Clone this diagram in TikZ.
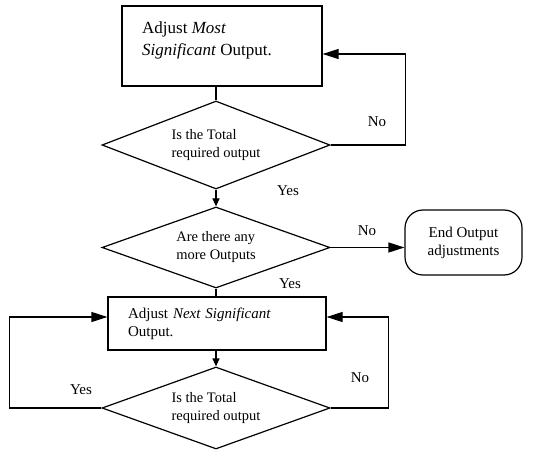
\documentclass[tikz,border=0pt]{standalone}
\usepackage{fontspec}
\setmainfont{Liberation Serif}
\usetikzlibrary{shapes.geometric,arrows.meta}
\tikzset{
  flow/.style={line width=1.2pt},
  bigtip/.style={-{Triangle[length=16pt,width=10pt]}},
  smalltip/.style={-{Triangle[length=8pt,width=7pt]}},
  procbox/.style={draw, line width=1.2pt, rectangle, inner sep=0pt},
  decision/.style={draw, line width=1.2pt, diamond, aspect=2.7, minimum width=228, inner sep=0pt,
    align=left, font=\fontsize{14.5}{18}\selectfont},
  lbl/.style={inner sep=0pt, font=\fontsize{15}{18}\selectfont}
}
\begin{document}
\begin{tikzpicture}[x=1pt,y=1pt]
  \useasboundingbox (0,0) rectangle (543,450);
  % boxes and decisions
  \node[procbox, minimum width=200, minimum height=80] (mostbox) at (222,404) {};
  \node[anchor=north west, inner sep=0pt, align=left, font=\fontsize{17}{21.5}\selectfont]
    (mosttext) at (142,428) {Adjust \textit{Most}\\\textit{Significant} Output.};
  \node[decision, aspect=2.59, minimum height=88] (check1) at (216,305) {Is the Total\\required output};
  \node[decision, aspect=2.81, minimum height=81] (more) at (216,202.5) {Are there any\\more Outputs};
  \node[draw, line width=1.2pt, rounded corners=18pt, minimum width=117, minimum height=65,
    inner sep=0pt, align=center, font=\fontsize{15}{18}\selectfont]
    (finish) at (463.5,207.5) {End Output\\adjustments};
  \node[procbox, minimum width=218, minimum height=53, text width=178, inner xsep=20pt,
    align=left, font=\fontsize{15}{18}\selectfont]
    (nextbox) at (217,126.5) {Adjust \textit{Next Significant}\\Output.};
  \node[decision, aspect=2.78, minimum height=82] (check2) at (216,42) {Is the Total\\required output};
  % connectors
  \draw[flow] (check1.north) -- (check1.north |- mostbox.south);
  \draw[flow, smalltip] (check1.south) -- (more.north);
  \draw[flow, bigtip] (more.east) -- (more.east -| finish.west);
  \draw[flow] (more.south) -- (more.south |- nextbox.north);
  \draw[flow, smalltip] (nextbox.south -| check2.north) -- (check2.north);
  \draw[flow, bigtip] (check1.east) -- ++(75,0) |- ([yshift=-8pt]mostbox.east);
  \draw[flow, bigtip] (check2.east) -- ++(58,0) |- ([yshift=6.5pt]nextbox.east);
  \draw[flow, bigtip] (check2.west) -- ++(-92,0) |- ([yshift=6.5pt]nextbox.west);
  % labels
  \node[lbl] (no1) at (377,328) {No};
  \node[lbl] (yes1) at (288,259) {Yes};
  \node[lbl] (no2) at (367,219) {No};
  \node[lbl] (yes2) at (290,166) {Yes};
  \node[lbl] (no3) at (360,72) {No};
  \node[lbl] (yes3) at (81,60) {Yes};
\end{tikzpicture}
\end{document}
